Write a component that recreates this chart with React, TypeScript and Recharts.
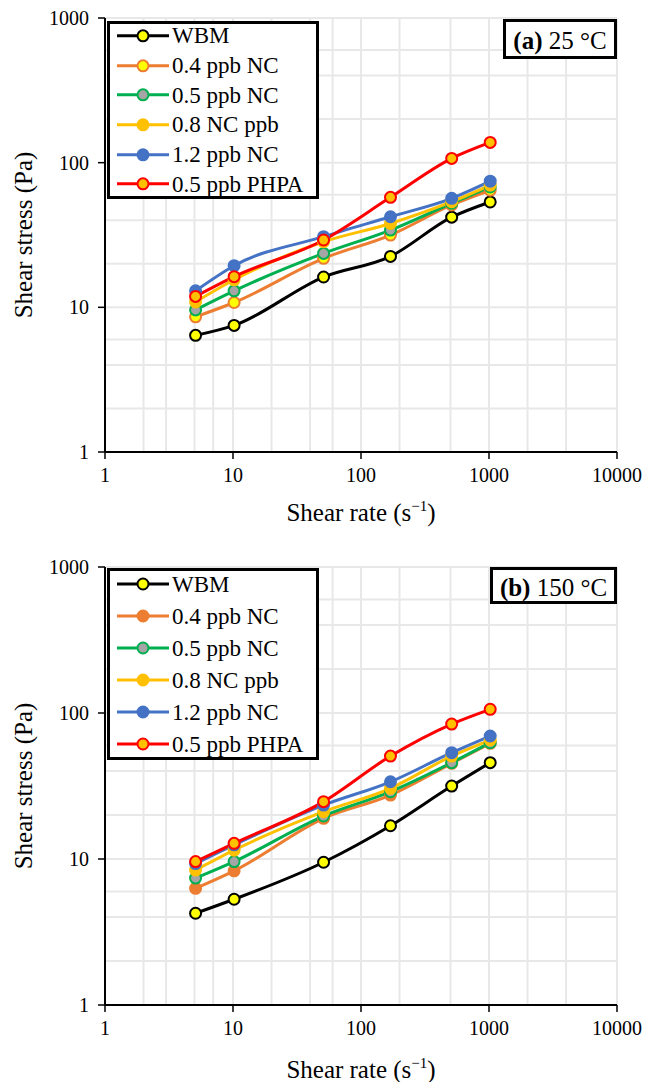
import React from "react";
import { CartesianGrid, Legend, Line, LineChart, XAxis, YAxis } from "recharts";

const FONT = "'Liberation Serif', 'Times New Roman', serif";

// shear rates of the viscometer readings (s^-1)
const shearRates = [5.1, 10.2, 51, 170, 511, 1022];

// (a) 25 °C, shear stress in Pa
const wbm25 = [6.4, 7.5, 16.2, 22.5, 42, 53.5];
const nc04At25 = [8.6, 10.8, 21.8, 31.6, 51, 64.5];
const nc05At25 = [9.6, 13.0, 23.6, 34.2, 52.4, 68];
const nc08At25 = [10.9, 15.5, 28.4, 38, 53.7, 70];
const nc12At25 = [13.0, 19.4, 30.8, 42.3, 56.7, 74.5];
const phpa25 = [11.9, 16.3, 29.2, 57.6, 107, 138];

// (b) 150 °C
const wbm150 = [4.25, 5.3, 9.5, 16.9, 31.6, 45.7];
const nc04At150 = [6.3, 8.3, 19.0, 27.4, 45.2, 62];
const nc05At150 = [7.4, 9.6, 19.7, 28.9, 45.7, 62.6];
const nc08At150 = [8.4, 11.5, 21.1, 30.5, 50.7, 65.3];
const nc12At150 = [9.3, 12.5, 23.4, 33.8, 53.5, 69.6];
const phpa150 = [9.6, 12.8, 24.7, 50.7, 84, 106];

const seriesNames = ["WBM", "0.4 ppb NC", "0.5 ppb NC", "0.8 NC ppb", "1.2 ppb NC", "0.5 ppb PHPA"];
const seriesKeys = ["wbm", "nc04", "nc05", "nc08", "nc12", "phpa"];

const xTicks = [1, 10, 100, 1000, 10000];
const yTicks = [1, 10, 100, 1000];
const xGridTicks = [
  1, 2, 3, 4, 5, 6, 7, 8, 9, 10, 20, 30, 40, 50, 60, 70, 80, 90, 100, 200, 300, 400, 500, 600,
  700, 800, 900, 1000, 2000, 3000, 4000, 5000, 6000, 7000, 8000, 9000, 10000,
];
const yGridTicks = [
  1, 2, 3, 4, 5, 6, 7, 8, 9, 10, 20, 30, 40, 50, 60, 70, 80, 90, 100, 200, 300, 400, 500, 600,
  700, 800, 900, 1000,
];

type SeriesStyle = { stroke: string; fill: string; dotStroke: string };

const styles25: SeriesStyle[] = [
  { stroke: "#000000", fill: "#FFFF00", dotStroke: "#000000" },
  { stroke: "#ED7D31", fill: "#FFFF00", dotStroke: "#ED7D31" },
  { stroke: "#00B050", fill: "#A5A5A5", dotStroke: "#00B050" },
  { stroke: "#FFC000", fill: "#FFC000", dotStroke: "#FFC000" },
  { stroke: "#4472C4", fill: "#4472C4", dotStroke: "#4472C4" },
  { stroke: "#FF0000", fill: "#FFC000", dotStroke: "#FF0000" },
];
const styles150: SeriesStyle[] = styles25.map((s, i) =>
  i === 1 ? { ...s, fill: "#ED7D31" } : s
);

function buildRows(series: number[][]) {
  return shearRates.map((x, i) => {
    const row: Record<string, number> = { x };
    seriesKeys.forEach((k, j) => {
      row[k] = series[j][i];
    });
    return row;
  });
}

const rows25 = buildRows([wbm25, nc04At25, nc05At25, nc08At25, nc12At25, phpa25]);
const rows150 = buildRows([wbm150, nc04At150, nc05At150, nc08At150, nc12At150, phpa150]);

function LegendBox({ styles, rowHeight, shift }: { styles: SeriesStyle[]; rowHeight: number; shift: number }) {
  const mid = rowHeight / 2;
  return (
    <div
      style={{
        border: "3px solid #000",
        background: "#fff",
        boxSizing: "border-box",
        width: 212,
        height: rowHeight * 6 + 6 - 2 * shift,
        overflow: "visible",
        fontFamily: FONT,
      }}
    >
      <div style={{ marginTop: -shift }}>
        {styles.map((s, i) => (
          <div key={seriesKeys[i]} style={{ display: "flex", alignItems: "center", height: rowHeight }}>
            <svg width={62} height={rowHeight} style={{ display: "block", flex: "none" }}>
              <line x1={7} x2={59} y1={mid} y2={mid} stroke={s.stroke} strokeWidth={3} />
              <circle cx={33} cy={mid} r={5.5} fill={s.fill} stroke={s.dotStroke} strokeWidth={2} />
            </svg>
            <span style={{ fontSize: 23, color: "#000", whiteSpace: "nowrap", lineHeight: 1 }}>
              {seriesNames[i]}
            </span>
          </div>
        ))}
      </div>
    </div>
  );
}

type PanelProps = {
  top: number;
  height: number;
  marginBottom: number;
  titleOffset: number;
  rows: Record<string, number>[];
  styles: SeriesStyle[];
  tag: string;
  temp: string;
  tagBox: { left: number; top: number; width: number; height: number };
  legendTop: number;
  rowHeight: number;
};

function Panel({ top, height, marginBottom, titleOffset, rows, styles, tag, temp, tagBox, legendTop, rowHeight }: PanelProps) {
  const tickStyle = { fill: "#000", fontSize: 20, fontFamily: FONT };
  return (
    <div style={{ position: "absolute", left: 0, top, width: 646, height }}>
      <LineChart
        width={646}
        height={height}
        data={rows}
        margin={{ top: 18, right: 29, left: 45, bottom: marginBottom }}
      >
        <XAxis xAxisId="gx" dataKey="x" type="number" scale="log" domain={[1, 10000]} ticks={xGridTicks} allowDataOverflow hide />
        <YAxis yAxisId="gy" type="number" scale="log" domain={[1, 1000]} ticks={yGridTicks} allowDataOverflow hide />
        <CartesianGrid xAxisId="gx" yAxisId="gy" stroke="#e8e8e8" strokeWidth={2} />
        <XAxis
          dataKey="x"
          type="number"
          scale="log"
          domain={[1, 10000]}
          ticks={xTicks}
          allowDataOverflow
          height={75}
          tick={tickStyle}
          tickSize={7}
          tickMargin={9}
          tickLine={{ stroke: "#000", strokeWidth: 1.5 }}
          axisLine={{ stroke: "#000", strokeWidth: 2 }}
          label={{
            content: (props: any) => {
              const vb = props.viewBox || {};
              return (
                <text
                  x={vb.x + vb.width / 2}
                  y={vb.y + titleOffset}
                  textAnchor="middle"
                  fontFamily={FONT}
                  fontSize={25}
                  fill="#000"
                >
                  Shear rate (s
                  <tspan fontSize={15} dy={-10}>−1</tspan>
                  <tspan dy={10}>)</tspan>
                </text>
              );
            },
          }}
        />
        <YAxis
          type="number"
          scale="log"
          domain={[1, 1000]}
          ticks={yTicks}
          allowDataOverflow
          width={60}
          tick={tickStyle}
          tickSize={7}
          tickMargin={9}
          tickLine={{ stroke: "#000", strokeWidth: 1.5 }}
          axisLine={{ stroke: "#000", strokeWidth: 2 }}
          label={{
            content: (props: any) => {
              const vb = props.viewBox || {};
              const cx = 32;
              const cy = vb.y + vb.height / 2;
              return (
                <text
                  x={cx}
                  y={cy}
                  transform={`rotate(-90, ${cx}, ${cy})`}
                  textAnchor="middle"
                  fontFamily={FONT}
                  fontSize={25}
                  fill="#000"
                >
                  Shear stress (Pa)
                </text>
              );
            },
          }}
        />
        <XAxis xAxisId="top" orientation="top" type="number" scale="log" domain={[1, 10000]} allowDataOverflow height={0} tick={false} tickLine={false} axisLine={{ stroke: "#000", strokeWidth: 2 }} />
        <YAxis yAxisId="right" orientation="right" type="number" scale="log" domain={[1, 1000]} allowDataOverflow width={0} tick={false} tickLine={false} axisLine={{ stroke: "#000", strokeWidth: 2 }} />
        {seriesKeys.map((k, i) => (
          <Line
            key={k}
            dataKey={k}
            name={seriesNames[i]}
            type="monotone"
            stroke={styles[i].stroke}
            strokeWidth={3}
            dot={{ r: 5.5, fill: styles[i].fill, stroke: styles[i].dotStroke, strokeWidth: 2 }}
            activeDot={false}
            isAnimationActive={false}
          />
        ))}
        <Legend
          layout="horizontal"
          verticalAlign="middle"
          align="center"
          wrapperStyle={{ left: 107, top: legendTop, width: 212, height: "auto" }}
          content={() => <LegendBox styles={styles} rowHeight={rowHeight} shift={3} />}
        />
      </LineChart>
      <div
        style={{
          position: "absolute",
          left: tagBox.left,
          top: tagBox.top,
          width: tagBox.width,
          height: tagBox.height,
          border: "3px solid #000",
          boxSizing: "border-box",
          background: "#fff",
          display: "flex",
          alignItems: "center",
          justifyContent: "center",
          fontFamily: FONT,
          fontSize: 25,
          lineHeight: 1,
          paddingTop: 3,
          whiteSpace: "nowrap",
        }}
      >
        <b>{tag}</b>&nbsp;{temp}
      </div>
    </div>
  );
}

export default function App() {
  return (
    <div
      style={{
        position: "absolute",
        left: 0,
        top: 0,
        width: 646,
        height: 1082,
        background: "#fff",
      }}
    >
      <style>{".recharts-wrapper, .recharts-surface { overflow: visible !important; }"}</style>
      <Panel
        top={0}
        height={545}
        marginBottom={18}
        titleOffset={69}
        rows={rows25}
        styles={styles25}
        tag="(a)"
        temp="25 °C"
        tagBox={{ left: 503, top: 19, width: 114, height: 40 }}
        legendTop={21}
        rowHeight={29.7}
      />
      <Panel
        top={549}
        height={533}
        marginBottom={2}
        titleOffset={73}
        rows={rows150}
        styles={styles150}
        tag="(b)"
        temp="150 °C"
        tagBox={{ left: 490, top: 18, width: 127, height: 37 }}
        legendTop={19}
        rowHeight={32}
      />
    </div>
  );
}
